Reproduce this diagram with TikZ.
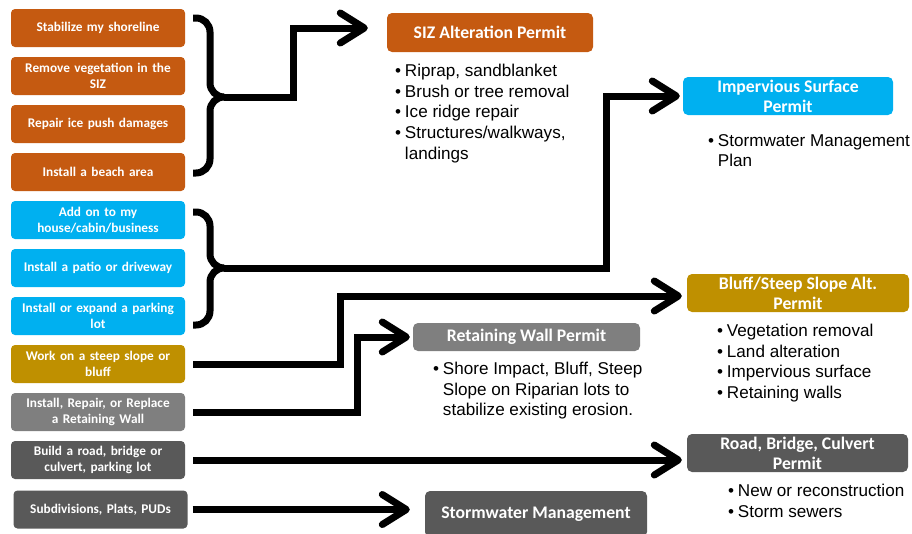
\documentclass[tikz,border=0pt]{standalone}
\usepackage{fontspec}
\setmainfont{Liberation Sans}
\newfontfamily\boxfont{Carlito}
\usepackage{xcolor}
\usepackage{tikz}
\usetikzlibrary{arrows.meta,positioning}

\definecolor{sizorange}{HTML}{C55A11}
\definecolor{impblue}{HTML}{00B0F0}
\definecolor{bluffgold}{HTML}{BF9000}
\definecolor{wallgray}{HTML}{7F7F7F}
\definecolor{roadgray}{HTML}{595959}

\tikzset{
  task/.style={rounded corners=4pt, minimum width=174pt, minimum height=38pt,
    text width=168pt, align=center, inner sep=0pt, text=white,
    font=\boxfont\bfseries\fontsize{13.3}{16.3}\selectfont},
  permit/.style={rounded corners=5pt, minimum height=38pt, inner sep=0pt,
    align=center, text=white, font=\boxfont\bfseries\fontsize{17.7}{20}\selectfont},
  notes/.style={align=left, inner sep=0pt, font=\fontsize{17.1}{20.6}\selectfont},
  flow/.style={line width=7pt, -{Straight Barb[length=24pt,width=30pt,round]}},
  brace/.style={line width=7pt, rounded corners=14pt}
}
\newcommand{\bul}{\textbullet\hspace{4pt}}
\newcommand{\hang}{\phantom{\textbullet}\hspace{4pt}}

\begin{document}
\begin{tikzpicture}[x=1pt, y=-1pt]
  \useasboundingbox (0,0) rectangle (912,533);

  % what I want to do
  \node[task, fill=sizorange] (s1) at (98,28) {Stabilize my shoreline};
  \node[task, fill=sizorange] (s2) at (98,76) {Remove vegetation in the\\SIZ};
  \node[task, fill=sizorange] (s3) at (98,124) {Repair ice push damages};
  \node[task, fill=sizorange] (s4) at (98,172) {Install a beach area};
  \node[task, fill=impblue] (i1) at (98,220) {Add on to my\\house/cabin/business};
  \node[task, fill=impblue] (i2) at (98,268) {Install a patio or driveway};
  \node[task, fill=impblue] (i3) at (98,316) {Install or expand a parking\\lot};
  \node[task, fill=bluffgold] (b1) at (98,364) {Work on a steep slope or\\bluff};
  \node[task, fill=wallgray] (w1) at (98,412) {Install, Repair, or Replace\\a Retaining Wall};
  \node[task, fill=roadgray] (r1) at (98,460) {Build a road, bridge or\\culvert, parking lot};
  \node[task, fill=roadgray] (m1) at (100.5,509.5) {Subdivisions, Plats, PUDs};

  % permits
  \node[permit, fill=sizorange, minimum width=206pt, minimum height=39pt] (siz) at (490,32.5) {SIZ Alteration Permit};
  \node[permit, fill=impblue, minimum width=210pt] (imp) at (788,96) {Impervious Surface\\Permit};
  \node[permit, fill=bluffgold, minimum width=222pt] (bluff) at (798,293) {Bluff/Steep Slope Alt.\\Permit};
  \node[permit, fill=wallgray, minimum width=227pt, minimum height=28pt] (wall) at (526.5,337) {Retaining Wall Permit};
  \node[permit, fill=roadgray, minimum width=221pt] (road) at (797.5,453) {Road, Bridge, Culvert\\Permit};
  \node[permit, fill=roadgray, minimum width=222pt, minimum height=46pt] (storm) at (536,514) {Stormwater Management};

  % notes under the permits
  \node[notes, below right=12pt and 8pt of siz.south west] (sizn)
    {\bul Riprap, sandblanket\\\bul Brush or tree removal\\\bul Ice ridge repair\\\bul Structures/walkways,\\\hang landings};
  \node[notes, below right=19pt and 25pt of imp.south west] (impn)
    {\bul Stormwater Management\\\hang Plan};
  \node[notes, below right=12pt and 30pt of bluff.south west] (bluffn)
    {\bul Vegetation removal\\\bul Land alteration\\\bul Impervious surface\\\bul Retaining walls};
  \node[notes, below right=11pt and 20pt of wall.south west] (walln)
    {\bul Shore Impact, Bluff, Steep\\\hang Slope on Riparian lots to\\\hang stabilize existing erosion.};
  \node[notes, below right=12pt and 41pt of road.south west] (roadn)
    {\bul New or reconstruction\\\bul Storm sewers};

  % braces
  \coordinate (tipS) at (224,97);
  \coordinate (tipI) at (224,268);
  \draw[brace] ([xshift=8pt,yshift=10pt]s1.east) -| ([xshift=-14pt]tipS) -- (tipS);
  \draw[brace] ([xshift=8pt,yshift=-1pt]s4.east) -| ([xshift=-14pt]tipS) -- (tipS);
  \draw[brace] ([xshift=8pt,yshift=8pt]i1.east) -| ([xshift=-14pt]tipI) -- (tipI);
  \draw[brace] ([xshift=8pt,yshift=-9pt]i3.east) -| ([xshift=-14pt]tipI) -- (tipI);

  % arrows
  \draw[flow, shorten >=19pt] (tipS) -- ++(69,0) |- ([yshift=4.5pt]siz.west);
  \draw[flow, shorten >=3pt] (tipI) -| ([xshift=-76pt]imp.west) -- (imp.west);
  \draw[flow, shorten >=5pt] ([xshift=8pt]b1.east) -- ++(147,0) |- ([yshift=-3pt]bluff.west);
  \draw[flow, shorten >=3pt] ([xshift=8pt]w1.east) -- ++(164,0) |- (wall.west);
  \draw[flow, shorten >=5pt] ([xshift=8pt]r1.east) -- (r1.east -| road.west);
  \draw[flow, shorten >=15pt] ([xshift=5pt]m1.east) -- (m1.east -| storm.west |- m1.east);
\end{tikzpicture}
\end{document}
